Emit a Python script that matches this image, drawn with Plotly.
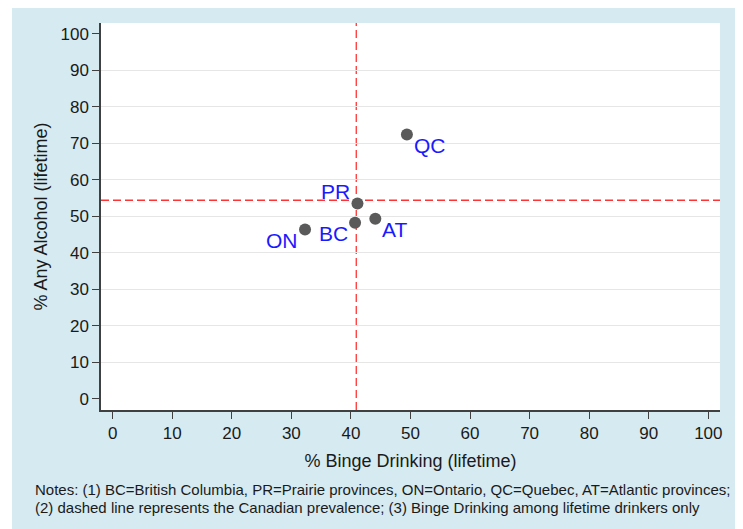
import plotly.graph_objects as go

# ---- data ----
provinces = ["BC", "PR", "ON", "QC", "AT"]
binge_pct = [40.7, 41.1, 32.3, 49.4, 44.1]        # % Binge Drinking (lifetime)
alcohol_pct = [48.2, 53.5, 46.4, 72.4, 49.3]      # % Any Alcohol (lifetime)
label_pos = ["bl", "tl", "bl", "br", "br"]        # clock-style label placement
canada_binge = 40.9
canada_alcohol = 54.4
tick_vals = [0, 10, 20, 30, 40, 50, 60, 70, 80, 90, 100]
grid_vals = [10, 20, 30, 40, 50, 60, 70, 80, 90]
note_lines = [
    "Notes: (1) BC=British Columbia, PR=Prairie provinces, ON=Ontario, QC=Quebec, AT=Atlantic provinces;",
    "(2) dashed line represents the Canadian prevalence; (3) Binge Drinking among lifetime drinkers only",
]

BG = "#D6EAF1"
FONT = "Liberation Sans, Arial, sans-serif"
OFF = 8  # page body margin offset

fig = go.Figure()
fig.add_trace(go.Scatter(
    x=binge_pct, y=alcohol_pct, mode="markers",
    marker=dict(size=12, color="#5A5A5A"),
    hoverinfo="skip", showlegend=False,
))

# point labels
for name, xv, yv, pos in zip(provinces, binge_pct, alcohol_pct, label_pos):
    right = pos.endswith("r")
    below = pos.startswith("b")
    fig.add_annotation(
        x=xv, y=yv, text=name, showarrow=False,
        xanchor="left" if right else "right", yanchor="middle",
        xshift=5 if right else -5, yshift=-11 if below else 12,
        font=dict(size=21, color="#1A1AFF", family=FONT),
    )

# layout geometry (screen coords of the reference, minus body offset)
W, H = 743 - OFF, 529 - OFF
L, T = 101 - OFF, 23 - OFF
pw, ph = 619, 387
R, B = W - L - pw, H - T - ph

def px_x(sx):
    return (sx - OFF - L) / pw

def px_y(sy):
    return (T + ph - (sy - OFF)) / ph

fig.add_shape(type="rect", xref="paper", yref="paper", layer="below",
              x0=px_x(12), x1=px_x(739), y0=px_y(535), y1=px_y(5),
              fillcolor=BG, line=dict(width=0))
fig.add_shape(type="rect", xref="paper", yref="paper", layer="below",
              x0=0, x1=1, y0=0, y1=1, fillcolor="white", line=dict(width=0))

# Canadian prevalence reference lines (under the markers)
fig.add_vline(x=canada_binge, layer="below",
              line=dict(color="#FF3333", width=1.3, dash="8px,4px"))
fig.add_hline(y=canada_alcohol, layer="below",
              line=dict(color="#FF3333", width=1.3, dash="8px,4px"))

# notes
for i, line in enumerate(note_lines):
    fig.add_annotation(
        xref="paper", yref="paper", x=px_x(33), y=px_y(489 + 18 * i),
        xanchor="left", yanchor="middle", text=line, showarrow=False,
        font=dict(size=15, color="#1a1a1a", family=FONT),
    )

axis_common = dict(
    showline=True, linecolor="#404040", linewidth=1.5,
    ticks="outside", ticklen=7, tickwidth=1.3, tickcolor="#404040",
    tickvals=tick_vals, ticktext=[str(v) for v in tick_vals],
    tickfont=dict(size=17, color="#1a1a1a", family=FONT),
    showgrid=False, zeroline=False, mirror=False,
)

fig.update_layout(
    width=W, height=H,
    margin=dict(l=L, r=R, t=T, b=B),
    paper_bgcolor="white", plot_bgcolor="white",
    font=dict(family=FONT),
    xaxis=dict(
        range=[-1.95, 101.96],
        title=dict(text="% Binge Drinking (lifetime)", standoff=12,
                   font=dict(size=18, color="#1a1a1a", family=FONT)),
        **axis_common,
    ),
    yaxis=dict(
        range=[-3.12, 103.0],
        title=dict(text="% Any Alcohol (lifetime)", standoff=8,
                   font=dict(size=18, color="#1a1a1a", family=FONT)),
        minor=dict(tickvals=grid_vals, showgrid=True, gridcolor="#E6E6E6",
                   gridwidth=1.3, ticks=""),
        **axis_common,
    ),
)

fig.write_html("out.html")
